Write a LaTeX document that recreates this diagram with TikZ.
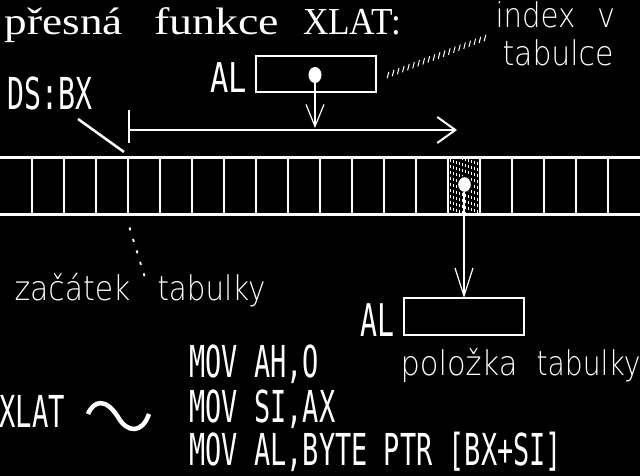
\documentclass[tikz,border=0pt]{standalone}
\usepackage{fontspec}
\usepackage{graphicx}
\usetikzlibrary{arrows.meta,calc}
\newfontfamily\titlefont{Liberation Serif}
\newfontfamily\codefont{DejaVu Sans Mono}
\newfontfamily\thinfont{DejaVuSans-ExtraLight.ttf}
\newcommand{\fitw}[2]{\resizebox{#1pt}{\height}{#2}}
\newcommand{\fsz}[1]{\fontsize{#1pt}{#1pt}\selectfont}
\newcommand{\tword}[1]{\titlefont\fsz{38.2}#1}
\newcommand{\hword}[1]{\thinfont\fsz{34}#1}
\tikzset{
  txt/.style={anchor=base west, inner sep=0pt, outer sep=0pt, text=white},
  boxst/.style={draw=white, line width=2.5pt, minimum width=120pt, minimum height=36pt, inner sep=0pt, outer sep=0pt},
  tabline/.style={draw=white, line width=3pt},
  cellline/.style={draw=white, line width=1.3pt},
  thinarrow/.style={draw=white, line width=1.2pt},
}
\begin{document}
\begin{tikzpicture}[x=1pt,y=-1pt]
\fill[black] (0,0) rectangle (640,476);
\useasboundingbox (0,0) rectangle (640,476);

% title
\node[txt] (title1) at (5,35) {\fitw{118}{\tword{přesná}}};
\node[txt] (title2) at (154,35) {\fitw{125}{\tword{funkce}}};
\node[txt] (title3) at (303,35) {\fitw{98}{\tword{XLAT:}}};

% index v tabulce
\node[txt] (idx1) at (495.5,28) {\fitw{80}{\hword{index}}};
\node[txt] (idx1b) at (597,28) {\fitw{18}{\hword{v}}};
\node[txt] (idx2) at (502.5,66) {\fitw{111}{\hword{tabulce}}};

% upper AL box
\node[txt] (al1) at (210,93) {\fitw{36.6}{\codefont\fsz{41}AL}};
\node[boxst] (box1) at (316,74) {};
\fill[white] (315,75) ellipse [x radius=6.5pt, y radius=8pt];
\coordinate (dot1) at (315,83);

% dotted ticks to "index v"
\coordinate (i1) at (388,75);
\coordinate (i2) at (485,38);
\foreach \k in {0,...,19}{
  \draw[white, line width=1pt] ($(i1)!\k/19!(i2)$) +(-0.8,3.2) -- +(0.8,-3.2);
}

% DS:BX
\node[txt] (dsbx) at (8,110) {\fitw{85}{\codefont\fsz{44}DS:BX}};
\coordinate (d1) at (78,119);
\coordinate (d2) at (124,152);
\draw[white, line width=2.5pt] (d1) -- (d2);

% horizontal arrow with start tick
\coordinate (t1) at (129,110);
\coordinate (t2) at (129,143);
\draw[white, line width=1.2pt] (t1) -- (t2);
\coordinate (h1) at (129,130);
\coordinate (h2) at (457,130);
\draw[white, line width=2pt, -{Straight Barb[length=18pt,width=26pt]}] (h1) -- (h2);

% vertical arrow from upper dot
\coordinate (v1) at (315,128);
\draw[thinarrow, -{Straight Barb[length=22pt,width=18pt]}] (dot1) -- (v1);

% table
\coordinate (tl) at (0,157.5);
\coordinate (tr) at (640,157.5);
\coordinate (bl) at (0,214);
\coordinate (br) at (640,214);
% hatched cell
\foreach \i in {0,...,9}{
  \pgfmathsetmacro{\ph}{mod(\i*5,6)}
  \draw[white, line width=0.9pt, dash pattern=on 3pt off 3pt, dash phase=\ph pt]
    (450+3*\i,159) -- (450+3*\i,212.5);
}
\foreach \k in {1,...,19}{
  \draw[cellline] (32*\k,157.5) -- (32*\k,214);
}
\draw[tabline] (tl) -- (tr);
\draw[tabline] (bl) -- (br);
\filldraw[fill=white, draw=black, line width=1.2pt] (464.5,184.5) ellipse [x radius=7pt, y radius=8pt];
\coordinate (dot2) at (464,192);

% lower box and arrow
\node[txt] (al2) at (360,336) {\fitw{34}{\codefont\fsz{45}AL}};
\node[boxst, minimum height=37pt] (box2) at (464,316.5) {};
\draw[thinarrow, -{Straight Barb[length=28pt,width=18pt]}] (dot2) -- (box2.north);

% začátek tabulky with dotted pointer
\coordinate (z1) at (129.5,227.5);
\coordinate (z2) at (146,281);
\draw[white, line width=1.8pt, dash pattern=on 3pt off 9pt] (z1) -- (z2);
\node[txt] (zac1) at (14.5,300) {\fitw{116}{\hword{začátek}}};
\node[txt] (zac2) at (157.5,300) {\fitw{108}{\hword{tabulky}}};

% položka tabulky
\node[txt] (pol1) at (400.5,375) {\fitw{117}{\hword{položka}}};
\node[txt] (pol2) at (536.5,375) {\fitw{104}{\hword{tabulky}}};

% code
\node[txt] (c1) at (189.5,377) {\fitw{129.6}{\codefont\fsz{44}MOV AH,O}};
\node[txt] (c2) at (189.5,422) {\fitw{145.8}{\codefont\fsz{44}MOV SI,AX}};
\node[txt] (c3) at (189.5,465) {\fitw{372.6}{\codefont\fsz{44}MOV AL,BYTE PTR [BX+SI]}};
\node[txt] (xlat) at (-0.5,427) {\fitw{65.5}{\codefont\fsz{44}XLAT}};

% tilde
\draw[white, line width=4.5pt] (88,414) .. controls (94,400) and (106,398) .. (118,417)
  .. controls (127,433) and (142,434) .. (149,414);
\end{tikzpicture}
\end{document}
